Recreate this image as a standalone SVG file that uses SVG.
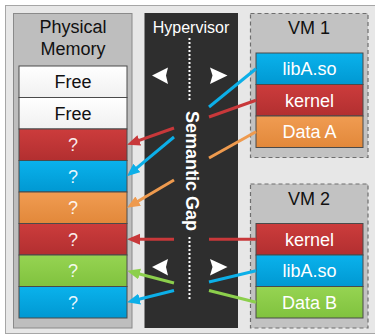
<svg xmlns="http://www.w3.org/2000/svg" width="375" height="336" viewBox="0 0 375 336">
  <defs>
    <linearGradient id="gRed" x1="0" y1="0" x2="0" y2="1">
      <stop offset="0" stop-color="#cc3c3c"/>
      <stop offset="1" stop-color="#b22f30"/>
    </linearGradient>
    <linearGradient id="gBlue" x1="0" y1="0" x2="0" y2="1">
      <stop offset="0" stop-color="#0ab2ec"/>
      <stop offset="1" stop-color="#0098d2"/>
    </linearGradient>
    <linearGradient id="gOrange" x1="0" y1="0" x2="0" y2="1">
      <stop offset="0" stop-color="#f09c52"/>
      <stop offset="1" stop-color="#e2883a"/>
    </linearGradient>
    <linearGradient id="gGreen" x1="0" y1="0" x2="0" y2="1">
      <stop offset="0" stop-color="#96d452"/>
      <stop offset="1" stop-color="#80c23e"/>
    </linearGradient>
    <linearGradient id="gWhite" x1="0" y1="0" x2="0" y2="1">
      <stop offset="0" stop-color="#ffffff"/>
      <stop offset="1" stop-color="#f0f0f0"/>
    </linearGradient>
    <marker id="ahRed" markerUnits="userSpaceOnUse" markerWidth="14" markerHeight="12" refX="9" refY="5.5" orient="auto">
      <path d="M0,0 L13,5.5 L0,11 z" fill="#c8383a"/>
    </marker>
    <marker id="ahBlue" markerUnits="userSpaceOnUse" markerWidth="14" markerHeight="12" refX="9" refY="5.5" orient="auto">
      <path d="M0,0 L13,5.5 L0,11 z" fill="#0cafe8"/>
    </marker>
    <marker id="ahOrange" markerUnits="userSpaceOnUse" markerWidth="14" markerHeight="12" refX="9" refY="5.5" orient="auto">
      <path d="M0,0 L13,5.5 L0,11 z" fill="#ee9a4e"/>
    </marker>
    <marker id="ahGreen" markerUnits="userSpaceOnUse" markerWidth="14" markerHeight="12" refX="9" refY="5.5" orient="auto">
      <path d="M0,0 L13,5.5 L0,11 z" fill="#8ccf4c"/>
    </marker>
  </defs>
  <style>
    text { font-family: "Liberation Sans", Arial, sans-serif; }
    .panel { fill: #bebebe; stroke: #8a8a8a; stroke-width: 1; }
    .vm { fill: #c2c2c2; stroke: #6e6e6e; stroke-width: 1.2; stroke-dasharray: 4 3; }
    .blk { stroke: #4a4a4a; stroke-width: 1; }
    .title { font-size: 18px; fill: #111; text-anchor: middle; }
    .lbl { font-size: 18px; fill: #ffffff; text-anchor: middle; }
    .lblD { font-size: 18px; fill: #111; text-anchor: middle; }
    .q { font-size: 18px; fill: #ffffff; fill-opacity: 0.92; text-anchor: middle; }
    .hv { font-size: 16px; fill: #ffffff; text-anchor: middle; }
    .gap { font-size: 18px; font-weight: bold; fill: #ffffff; text-anchor: middle; }
    .dots { stroke: #ffffff; stroke-width: 2; stroke-dasharray: 2 2; fill: none; }
    .tri { fill: #ffffff; }
    .ln { stroke-width: 3; fill: none; }
    .red { stroke: #c8383a; }
    .blue { stroke: #0cafe8; }
    .orange { stroke: #ee9a4e; }
    .green { stroke: #8ccf4c; }
  </style>

  <!-- outer frame -->
  <rect x="5.5" y="5.5" width="380" height="328" fill="#e7e7e7" stroke="#a6a6a6" stroke-width="1"/>

  <!-- physical memory -->
  <g id="physical-memory">
    <rect class="panel" x="13.5" y="13.5" width="118.5" height="314.5"/>
    <text class="title" x="73" y="33">Physical</text>
    <text class="title" x="73" y="55">Memory</text>
    <rect class="blk" x="19" y="66" width="108" height="31.5" fill="url(#gWhite)"/>
    <text class="lblD" x="73" y="88">Free</text>
    <rect class="blk" x="19" y="97.5" width="108" height="31.5" fill="url(#gWhite)"/>
    <text class="lblD" x="73" y="119.5">Free</text>
    <rect class="blk" x="19" y="129" width="108" height="31.5" fill="url(#gRed)"/>
    <text class="q" x="73" y="151">?</text>
    <rect class="blk" x="19" y="160.5" width="108" height="31.5" fill="url(#gBlue)"/>
    <text class="q" x="73" y="182.5">?</text>
    <rect class="blk" x="19" y="192" width="108" height="31.5" fill="url(#gOrange)"/>
    <text class="q" x="73" y="214">?</text>
    <rect class="blk" x="19" y="223.5" width="108" height="31.5" fill="url(#gRed)"/>
    <text class="q" x="73" y="245.5">?</text>
    <rect class="blk" x="19" y="255" width="108" height="31.5" fill="url(#gGreen)"/>
    <text class="q" x="73" y="277">?</text>
    <rect class="blk" x="19" y="286.5" width="108" height="31.5" fill="url(#gBlue)"/>
    <text class="q" x="73" y="308.5">?</text>
  </g>

  <!-- hypervisor column -->
  <g id="hypervisor">
    <rect x="144.5" y="13" width="93.5" height="315" fill="#2e2e2e"/>
    <text class="hv" x="191" y="32.5">Hypervisor</text>
    <line class="dots" x1="189.5" y1="38" x2="189.5" y2="102"/>
    <line class="dots" x1="189.5" y1="237" x2="189.5" y2="301"/>
    <text class="gap" transform="translate(185.5,171) rotate(90)" x="0" y="0">Semantic Gap</text>
    <path class="tri" d="M152,75.5 L168,67.5 L166,75.5 L168,84 z"/>
    <path class="tri" d="M227.5,75.5 L210,67.5 L212.5,75.5 L210,84 z"/>
    <path class="tri" d="M152,267 L168,259 L166,267 L168,275.5 z"/>
    <path class="tri" d="M227.5,267 L210,259 L212.5,267 L210,275.5 z"/>
  </g>

  <!-- VM 1 -->
  <g id="vm1">
    <rect class="vm" x="250.5" y="13.5" width="117.5" height="144"/>
    <text class="title" x="309" y="34">VM 1</text>
    <rect class="blk" x="256" y="53" width="107" height="31.5" fill="url(#gBlue)"/>
    <text class="lbl" x="309.5" y="75">libA.so</text>
    <rect class="blk" x="256" y="84.5" width="107" height="31.5" fill="url(#gRed)"/>
    <text class="lbl" x="309.5" y="106.5">kernel</text>
    <rect class="blk" x="256" y="116" width="107" height="31.5" fill="url(#gOrange)"/>
    <text class="lbl" x="309.5" y="138">Data A</text>
  </g>

  <!-- VM 2 -->
  <g id="vm2">
    <rect class="vm" x="250.5" y="184" width="117.5" height="144"/>
    <text class="title" x="309" y="204.5">VM 2</text>
    <rect class="blk" x="256" y="223.5" width="107" height="31.5" fill="url(#gRed)"/>
    <text class="lbl" x="309.5" y="245.5">kernel</text>
    <rect class="blk" x="256" y="255" width="107" height="31.5" fill="url(#gBlue)"/>
    <text class="lbl" x="309.5" y="277">libA.so</text>
    <rect class="blk" x="256" y="286.5" width="107" height="31.5" fill="url(#gGreen)"/>
    <text class="lbl" x="309.5" y="308.5">Data B</text>
  </g>

  <!-- connectors -->
  <g id="connectors">
    <!-- VM 1 side -->
    <line class="ln blue" x1="256" y1="68.75" x2="209" y2="107"/>
    <line class="ln red" x1="256" y1="100.25" x2="209" y2="117"/>
    <line class="ln orange" x1="256" y1="131.75" x2="209" y2="158"/>
    <!-- VM 2 side -->
    <line class="ln red" x1="256" y1="239.25" x2="209" y2="239.25"/>
    <line class="ln blue" x1="256" y1="270.75" x2="209" y2="282"/>
    <line class="ln green" x1="256" y1="302.25" x2="209" y2="290.5"/>
    <!-- into physical memory -->
    <line class="ln red" x1="174" y1="128" x2="130.8" y2="143.4" marker-end="url(#ahRed)"/>
    <line class="ln blue" x1="174" y1="137" x2="130" y2="173.7" marker-end="url(#ahBlue)"/>
    <line class="ln orange" x1="174" y1="180" x2="130.4" y2="205.7" marker-end="url(#ahOrange)"/>
    <line class="ln red" x1="174" y1="239.25" x2="131" y2="239.25" marker-end="url(#ahRed)"/>
    <line class="ln green" x1="174" y1="283" x2="130.9" y2="271.7" marker-end="url(#ahGreen)"/>
    <line class="ln blue" x1="174" y1="290.5" x2="130.9" y2="301.3" marker-end="url(#ahBlue)"/>
  </g>
</svg>
